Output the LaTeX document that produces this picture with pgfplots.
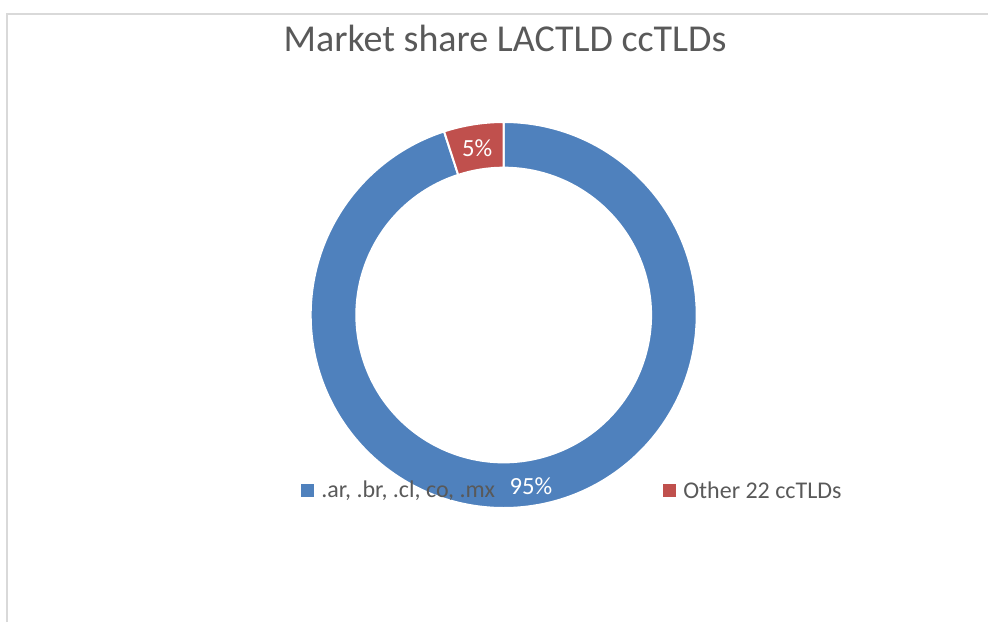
\documentclass[border=0pt]{standalone}
\usepackage{pgfplots}
\pgfplotsset{compat=1.18}
\usetikzlibrary{calc}
\usepackage{fontspec}
\setmainfont{Carlito}
\definecolor{sblue}{HTML}{4F81BD}
\definecolor{sred}{HTML}{C0504D}
\definecolor{txt}{HTML}{595959}
\definecolor{frame}{HTML}{D9D9D9}
\begin{document}
\begin{tikzpicture}[x=0.75pt,y=0.75pt]
\useasboundingbox (0,0) rectangle (988,622);
\begin{axis}[
  at={(0,0)}, anchor=origin,
  x=0.75pt, y=0.75pt,
  xmin=0, xmax=988, ymin=0, ymax=622,
  hide axis, clip=false,
]
% data: shares (percent)
\def\va{95}
\def\vb{5}
\pgfmathsetmacro{\angA}{\va*3.6}
\pgfmathsetmacro{\angB}{\vb*3.6}
\def\cx{503.7}
\def\cy{307}
\def\ro{144.75pt}
\def\ri{110.5pt}
% frame lines
\draw[frame, line width=0.8pt] (axis cs:7,0) -- (axis cs:7,608) -- (axis cs:988,608);
% blue slice: from 90 clockwise by angA
\fill[sblue, draw=white, line width=1.5pt]
  (axis cs:\cx,\cy) ++(90:\ro) arc[start angle=90, end angle={90-\angA}, radius=\ro]
  -- ++({90-\angA}:{-(144.75-110.5)*1pt}) arc[start angle={90-\angA}, end angle=90, radius=\ri] -- cycle;
% red slice
\fill[sred, draw=white, line width=1.5pt]
  (axis cs:\cx,\cy) ++({90-\angA}:\ro) arc[start angle={90-\angA}, end angle={90-\angA-\angB}, radius=\ro]
  -- ++({90-\angA-\angB}:{-(144.75-110.5)*1pt}) arc[start angle={90-\angA-\angB}, end angle={90-\angA}, radius=\ri] -- cycle;
% labels
\pgfmathsetmacro{\ma}{90-\angA/2}
\pgfmathsetmacro{\mb}{90-\angA-\angB/2}
\node[text=white, font=\fontsize{18.5}{20}\selectfont] at ($(axis cs:\cx,\cy)+(\ma:130pt)$) {\va\%};
\node[text=white, font=\fontsize{18.5}{20}\selectfont] at ($(axis cs:\cx,\cy)+(\mb:127pt)$) {\vb\%};
% title
\node[text=txt, font=\fontsize{28.5}{31}\selectfont] at (axis cs:505,584) {Market share LACTLD ccTLDs};
% legend
\fill[sblue] (axis cs:301,125) rectangle (axis cs:314,138);
\node[text=txt, anchor=west, font=\fontsize{18}{20}\selectfont, inner sep=0pt] at (axis cs:321,131.5) {.ar, .br, .cl, co, .mx};
\fill[sred] (axis cs:663,125) rectangle (axis cs:676,138);
\node[text=txt, anchor=west, font=\fontsize{18}{20}\selectfont, inner sep=0pt] at (axis cs:683,131.5) {Other 22 ccTLDs};
\end{axis}
\end{tikzpicture}
\end{document}
